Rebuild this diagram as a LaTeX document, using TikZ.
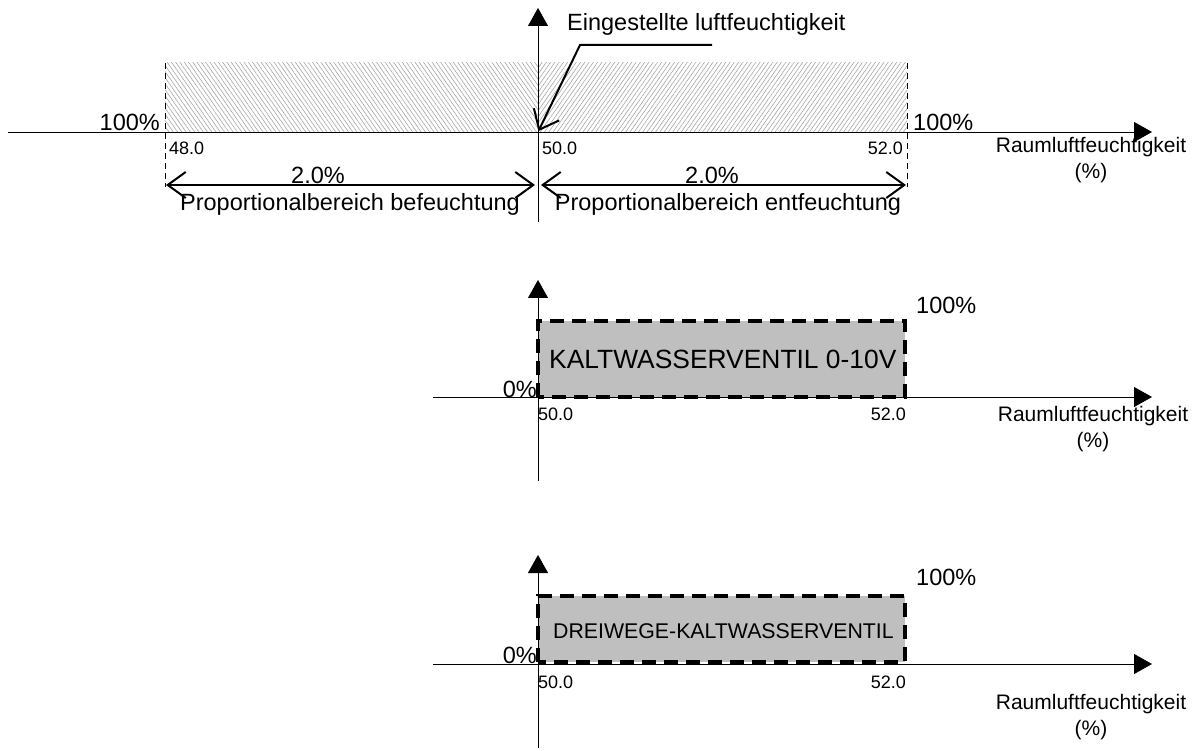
\documentclass[tikz,border=0pt]{standalone}
\usepackage{fontspec}
\setmainfont{Liberation Sans}
\usetikzlibrary{arrows.meta,patterns.meta,positioning}

\begin{document}
\begin{tikzpicture}[x=1pt,y=-1pt,
		axis/.style={line width=0.9pt,-{Triangle[width=20pt,length=18pt]}},
		guide/.style={line width=0.8pt,dash pattern=on 6pt off 4pt},
		dim/.style={line width=2pt,>={Straight Barb[length=18pt,width=26pt,line width=2pt]},<->},
		lead/.style={line width=2pt,>={Straight Barb[length=17pt,width=28pt,line width=2pt]},->},
		valve/.style={fill=black!25,draw=black,line width=3.5pt,dash pattern=on 14pt off 8pt},
		big/.style={font=\fontsize{23.5}{26}\selectfont,inner sep=0pt},
		small/.style={font=\fontsize{18}{20}\selectfont,inner sep=0pt},
		quantity/.style={font=\fontsize{21}{26}\selectfont,inner sep=0pt,align=center},
		]
		\useasboundingbox (0,0) rectangle (1202,751);

		% Sollwert diagram
		\coordinate (x1a) at (8,132);
		\coordinate (x1b) at (1152,132);
		\coordinate (y1a) at (538,222);
		\coordinate (y1b) at (538,8);
		\coordinate (o1) at (538,132);
		\coordinate (t48) at (165,132);
		\coordinate (t52) at (907,132);

		\fill[pattern={Lines[angle=-55,distance=3.5pt,line width=0.6pt]},pattern color=black!35] (165,63) rectangle (o1);
		\fill[pattern={Lines[angle=55,distance=3.5pt,line width=0.6pt]},pattern color=black!35] (538,63) rectangle (t52);

		\draw[guide] (165,63) -- (165,187);
		\draw[guide] (907,63) -- (907,187);
		\draw[axis] (x1a) -- (x1b);
		\draw[axis] (y1a) -- (y1b);

		\node[big,anchor=base west] (soll) at (567,31) {Eingestellte luftfeuchtigkeit};
		\coordinate (knick) at (580,45);
		\draw[lead,shorten >=1pt] (712,45) -- (knick) -- (o1);

		\node[big,anchor=base east] (h1l) at (160,131) {100\%};
		\node[big,anchor=base west] (h1r) at (913,131) {100\%};
		\node[small,anchor=base west] (v48) at (169,155) {48.0};
		\node[small,anchor=base west] (v50a) at (542,155) {50.0};
		\node[small,anchor=base east] (v52a) at (903,155) {52.0};
		\node[quantity,anchor=north] (q1) at (1091,137) {Raumluftfeuchtigkeit\\(\%)};

		\coordinate (d48) at (166,185);
		\coordinate (d50l) at (535,185);
		\coordinate (d50r) at (541,185);
		\coordinate (d52) at (906,185);
		\draw[dim] (d48) -- (d50l);
		\draw[dim] (d50r) -- (d52);
		\node[big,anchor=base] (bw1) at (318,184) {2.0\%};
		\node[big,anchor=base] (bw2) at (712,184) {2.0\%};
		\node[big,anchor=base] (pb1) at (350,211) {Proportionalbereich befeuchtung};
		\node[big,anchor=base] (pb2) at (728,211) {Proportionalbereich entfeuchtung};

		% Kaltwasserventil
		\coordinate (x2a) at (433,397);
		\coordinate (x2b) at (1152,397);
		\coordinate (y2a) at (538,481);
		\coordinate (y2b) at (538,280);
		\draw[valve] (538,397) rectangle (905,321);
		\draw[axis] (x2a) -- (x2b);
		\draw[axis] (y2a) -- (y2b);
		\node[font=\fontsize{26.4}{28}\selectfont,inner sep=0pt,anchor=base west] (kw) at (549,368) {KALTWASSERVENTIL 0-10V};
		\node[big,anchor=base west] (h2) at (916,313) {100\%};
		\node[big,anchor=base east] (n2) at (537,397) {0\%};
		\node[small,anchor=base west] (v50b) at (538,420) {50.0};
		\node[small,anchor=base east] (v52b) at (906,420) {52.0};
		\node[quantity,anchor=north] (q2) at (1093,406) {Raumluftfeuchtigkeit\\(\%)};

		% Dreiwege-Kaltwasserventil
		\coordinate (x3a) at (433,664);
		\coordinate (x3b) at (1152,664);
		\coordinate (y3a) at (538,748);
		\coordinate (y3b) at (538,555);
		\draw[valve] (538,662) rectangle (905,596);
		\draw[axis] (x3a) -- (x3b);
		\draw[axis] (y3a) -- (y3b);
		\node[font=\fontsize{21.3}{24}\selectfont,inner sep=0pt,anchor=base west] (dw) at (553,638) {DREIWEGE-KALTWASSERVENTIL};
		\node[big,anchor=base west] (h3) at (916,585) {100\%};
		\node[big,anchor=base east] (n3) at (537,663) {0\%};
		\node[small,anchor=base west] (v50c) at (538,688) {50.0};
		\node[small,anchor=base east] (v52c) at (906,688) {52.0};
		\node[quantity,anchor=north] (q3) at (1091,694) {Raumluftfeuchtigkeit\\(\%)};
	\end{tikzpicture}
\end{document}
